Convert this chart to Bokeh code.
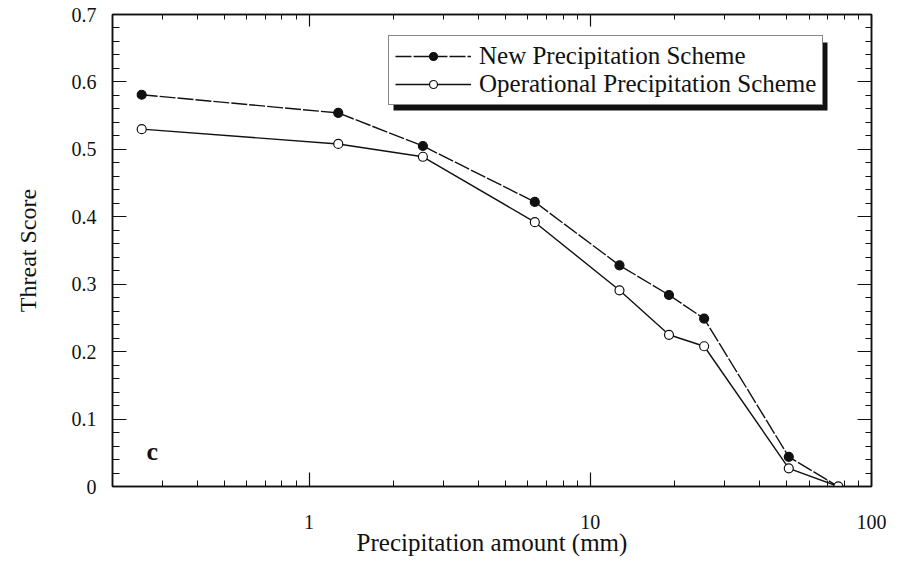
import math
from bokeh.plotting import figure
from bokeh.models import (Range1d, FixedTicker, LogAxis, LinearAxis, Legend, LegendItem,
                          CustomJSTickFormatter, Label, BoxAnnotation)
from bokeh.embed import file_html
from bokeh.resources import INLINE

# ---- data ----
precip_mm = [0.254, 1.27, 2.54, 6.35, 12.7, 19.05, 25.4, 50.8, 76.2]
new_scheme = [0.581, 0.554, 0.505, 0.422, 0.328, 0.284, 0.249, 0.044, 0.0]
oper_scheme = [0.530, 0.508, 0.489, 0.392, 0.291, 0.225, 0.208, 0.027, 0.0]

x_major = [1, 10, 100]
x_minor = [0.3, 0.4, 0.5, 0.6, 0.7, 0.8, 0.9, 2, 3, 4, 5, 6, 7, 8, 9,
           20, 30, 40, 50, 60, 70, 80, 90]
y_major = [0.0, 0.1, 0.2, 0.3, 0.4, 0.5, 0.6, 0.7]
y_minor = [round(i * 0.02, 2) for i in range(36)]

series_labels = ["New Precipitation Scheme", "Operational Precipitation Scheme"]
x_title = "Precipitation amount (mm)"
y_title = "Threat Score"
panel_tag = "c"

# ---- layout ----
FONT = "Liberation Serif"
INK = "#111111"
W, H = 907, 562
BL, BT = 112, 14
FW, FH = 759, 472
BR, BB = W - BL - FW, H - BT - FH
X0, X1 = 0.2, 100.0
Y0, Y1 = 0.0, 0.7


def px_to_x(px):
    lo, hi = math.log10(X0), math.log10(X1)
    return 10 ** (lo + px / FW * (hi - lo))


def py_to_y(py):  # py measured down from frame top
    return Y1 - py / FH * (Y1 - Y0)


p = figure(width=W, height=H, x_axis_type="log",
           x_range=Range1d(X0, X1), y_range=Range1d(Y0, Y1),
           output_backend="svg", toolbar_location=None,
           min_border_left=BL, min_border_right=BR,
           min_border_top=BT, min_border_bottom=BB)
p.background_fill_color = "white"
p.border_fill_color = "white"
p.outline_line_color = INK
p.outline_line_width = 1.5
p.xgrid.visible = False
p.ygrid.visible = False

xt = FixedTicker(ticks=x_major, minor_ticks=x_minor)
yt = FixedTicker(ticks=y_major, minor_ticks=y_minor)
xfmt = CustomJSTickFormatter(code="return String(Math.round(tick));")
yfmt = CustomJSTickFormatter(code="return tick == 0 ? '0' : tick.toFixed(1);")
blank = CustomJSTickFormatter(code="return '';")


def style_axis(ax, major_in, minor_in):
    ax.axis_line_color = INK
    ax.axis_line_width = 1.5
    ax.major_tick_line_color = INK
    ax.minor_tick_line_color = INK
    ax.major_tick_line_width = 1.2
    ax.minor_tick_line_width = 1.0
    ax.major_tick_in = major_in
    ax.major_tick_out = 0
    ax.minor_tick_in = minor_in
    ax.minor_tick_out = 0
    ax.major_label_text_font = FONT
    ax.major_label_text_color = INK
    ax.axis_label_text_font = FONT
    ax.axis_label_text_font_style = "normal"
    ax.axis_label_text_color = INK


xa = p.xaxis[0]
xa.ticker = xt
xa.formatter = xfmt
style_axis(xa, 14, 6)
xa.major_label_text_font_size = "20px"
xa.major_label_standoff = 28
xa.axis_label = x_title
xa.axis_label_text_font_size = "25px"
xa.axis_label_standoff = -3

ya = p.yaxis[0]
ya.ticker = yt
ya.formatter = yfmt
style_axis(ya, 14, 7)
ya.major_label_text_font_size = "20px"
ya.major_label_standoff = 16
ya.axis_label = y_title
ya.axis_label_text_font_size = "24px"
ya.axis_label_standoff = 28

top_ax = LogAxis(ticker=xt, formatter=blank)
style_axis(top_ax, 12, 5)
top_ax.major_label_text_font_size = "2px"
top_ax.major_label_standoff = 0
p.add_layout(top_ax, "above")

right_ax = LinearAxis(ticker=yt, formatter=blank)
style_axis(right_ax, 14, 6)
right_ax.major_label_text_font_size = "2px"
right_ax.major_label_standoff = 0
p.add_layout(right_ax, "right")

# ---- series ----
l_new = p.line(precip_mm, new_scheme, line_color=INK, line_width=1.4, line_dash="16 2")
s_new = p.scatter(precip_mm, new_scheme, marker="circle", size=9,
                  fill_color=INK, line_color=INK, line_width=1.2)
l_op = p.line(precip_mm, oper_scheme, line_color=INK, line_width=1.4)
s_op = p.scatter(precip_mm, oper_scheme, marker="circle", size=9,
                 fill_color="white", line_color=INK, line_width=1.2)

# ---- legend with drop shadow ----
LEG_LEFT, LEG_TOP = 276, 23
LEG_W, LEG_H = 434, 68
SH = 5
shadow = BoxAnnotation(left=px_to_x(LEG_LEFT + SH), right=px_to_x(LEG_LEFT + LEG_W + SH),
                       top=py_to_y(LEG_TOP + SH), bottom=py_to_y(LEG_TOP + LEG_H + SH),
                       fill_color=INK, fill_alpha=1.0, line_color=None)
p.add_layout(shadow)

legend = Legend(items=[LegendItem(label=series_labels[0], renderers=[l_new, s_new]),
                       LegendItem(label=series_labels[1], renderers=[l_op, s_op])],
                location=(LEG_LEFT, FH - LEG_TOP - LEG_H))
legend.label_text_font = FONT
legend.label_text_font_size = "25px"
legend.label_text_color = INK
legend.glyph_width = 76
legend.glyph_height = 20
legend.label_standoff = 8
legend.padding = 6
legend.spacing = -3
legend.margin = 0
legend.border_line_color = INK
legend.border_line_width = 1.5
legend.background_fill_color = "white"
legend.background_fill_alpha = 1.0
p.add_layout(legend)

# ---- panel tag ----
tag = Label(x=px_to_x(34), y=py_to_y(FH - 35), text=panel_tag,
            text_font=FONT, text_font_size="26px", text_font_style="bold",
            text_color=INK, text_align="left", text_baseline="alphabetic")
p.add_layout(tag)

open("out.html", "w").write(file_html(p, INLINE))
